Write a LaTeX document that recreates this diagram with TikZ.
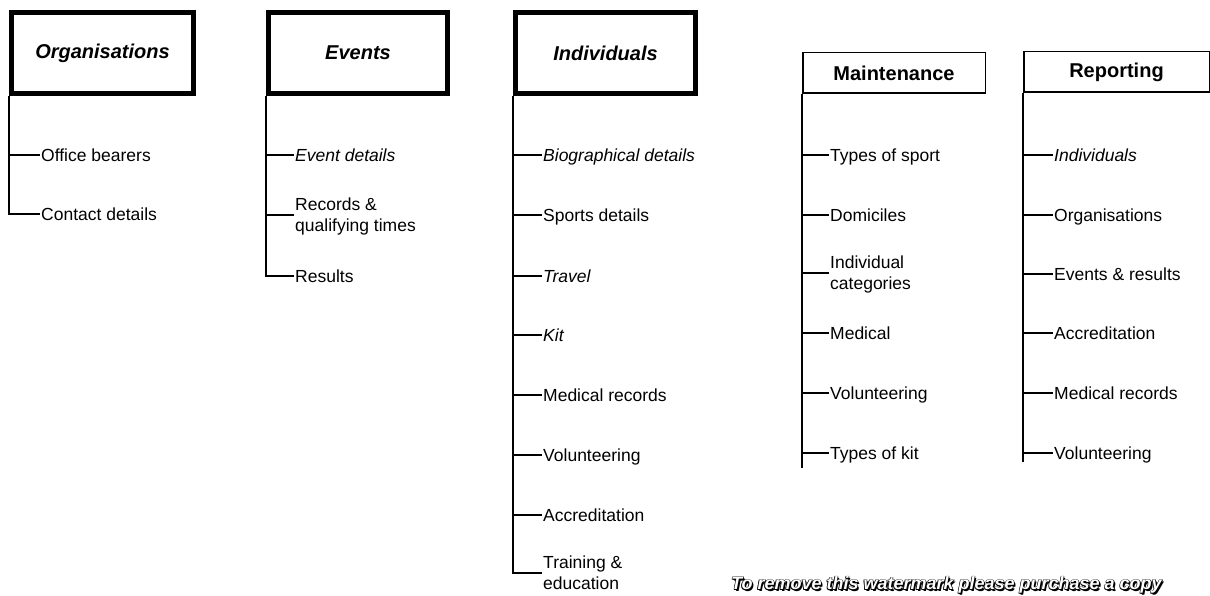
\documentclass[tikz,border=0pt]{standalone}
\usepackage{fontspec}
\setmainfont{Liberation Sans}
\begin{document}
\begin{tikzpicture}[x=1pt,y=-1pt,
  heavybox/.style={draw, line width=5pt, minimum height=81pt, inner sep=0pt,
    font=\fontsize{20}{24}\selectfont\bfseries\itshape},
  lightbox/.style={draw, line width=1.5pt, minimum height=40.5pt, inner sep=0pt,
    font=\fontsize{20}{24}\selectfont\bfseries},
  item/.style={anchor=west, inner sep=1pt, text height=12.5pt, text depth=0pt,
    font=\fontsize{17.5}{21}\selectfont},
  item2/.style={anchor=west, inner sep=1pt, align=left, text height=33.5pt, text depth=0pt,
    font=\fontsize{17.5}{21}\selectfont},
  link/.style={line width=1.5pt},
  wmark/.style={anchor=west, inner sep=0pt, font=\fontsize{18}{20}\selectfont\bfseries\itshape}]

\useasboundingbox (0,0) rectangle (1210,596);

% ---- headers
\node[heavybox, minimum width=182pt] (org) at (102.5,53) {Organisations};
\node[heavybox, minimum width=179pt] (evt) at (358,53) {Events};
\node[heavybox, minimum width=180pt] (ind) at (605.5,53) {Individuals};
\node[lightbox, minimum width=182.5pt] (mnt) at (894,73) {Maintenance};
\node[lightbox, minimum width=185.5pt] (rep) at (1116.5,72) {Reporting};

% ---- Organisations
\node[item] (o1) at (40,155) {Office bearers};
\node[item] (o2) at (40,214) {Contact details};
\draw[link] (org.south west) |- (o1.west);
\draw[link] (org.south west) |- (o2.west);

% ---- Events
\node[item] (e1) at (294,155) {\itshape Event details};
\node[item2] (e2) at (294,215) {Records \&\\qualifying times};
\node[item] (e3) at (294,276) {Results};
\foreach \n in {e1,e2,e3}
  \draw[link] (evt.south west) |- (\n.west);

% ---- Individuals
\node[item] (i1) at (542,155) {\itshape Biographical details};
\node[item] (i2) at (542,215) {Sports details};
\node[item] (i3) at (542,276) {\itshape Travel};
\node[item] (i4) at (542,335) {\itshape Kit};
\node[item] (i5) at (542,395) {Medical records};
\node[item] (i6) at (542,455) {Volunteering};
\node[item] (i7) at (542,515) {Accreditation};
\node[item2] (i8) at (542,573) {Training \&\\education};
\foreach \n in {i1,i2,i3,i4,i5,i6,i7,i8}
  \draw[link] (ind.south west) |- (\n.west);

% ---- Maintenance
\node[item] (m1) at (829,155) {Types of sport};
\node[item] (m2) at (829,215) {Domiciles};
\node[item2] (m3) at (829,273) {Individual\\categories};
\node[item] (m4) at (829,333) {Medical};
\node[item] (m5) at (829,393) {Volunteering};
\node[item] (m6) at (829,453) {Types of kit};
\coordinate (mEnd) at (802.75,468);
\draw[link] (mnt.south west) -- (mnt.south west |- mEnd);
\foreach \n in {m1,m2,m3,m4,m5,m6}
  \draw[link] (mnt.south west |- \n.west) -- (\n.west);

% ---- Reporting
\node[item] (r1) at (1053,155) {\itshape Individuals};
\node[item] (r2) at (1053,215) {Organisations};
\node[item] (r3) at (1053,274) {Events \& results};
\node[item] (r4) at (1053,333) {Accreditation};
\node[item] (r5) at (1053,393) {Medical records};
\node[item] (r6) at (1053,453) {Volunteering};
\coordinate (rEnd) at (1023.75,462);
\draw[link] (rep.south west) -- (rep.south west |- rEnd);
\foreach \n in {r1,r2,r3,r4,r5,r6}
  \draw[link] (rep.south west |- \n.west) -- (\n.west);

% ---- watermark line: white lettering with a dark outline and drop shadow
\node[wmark, text=black] (wmShadow) at (732.6,586.6) {To remove this watermark please purchase a copy};
\node[wmark, text=black] (wmA) at (730.4,584.4) {To remove this watermark please purchase a copy};
\node[wmark, text=black] (wmB) at (731.6,584.4) {To remove this watermark please purchase a copy};
\node[wmark, text=black] (wmC) at (730.4,585.6) {To remove this watermark please purchase a copy};
\node[wmark, text=black] (wmD) at (731.6,585.6) {To remove this watermark please purchase a copy};
\node[wmark, text=white] (wm) at (731,585) {To remove this watermark please purchase a copy};

\end{tikzpicture}
\end{document}
